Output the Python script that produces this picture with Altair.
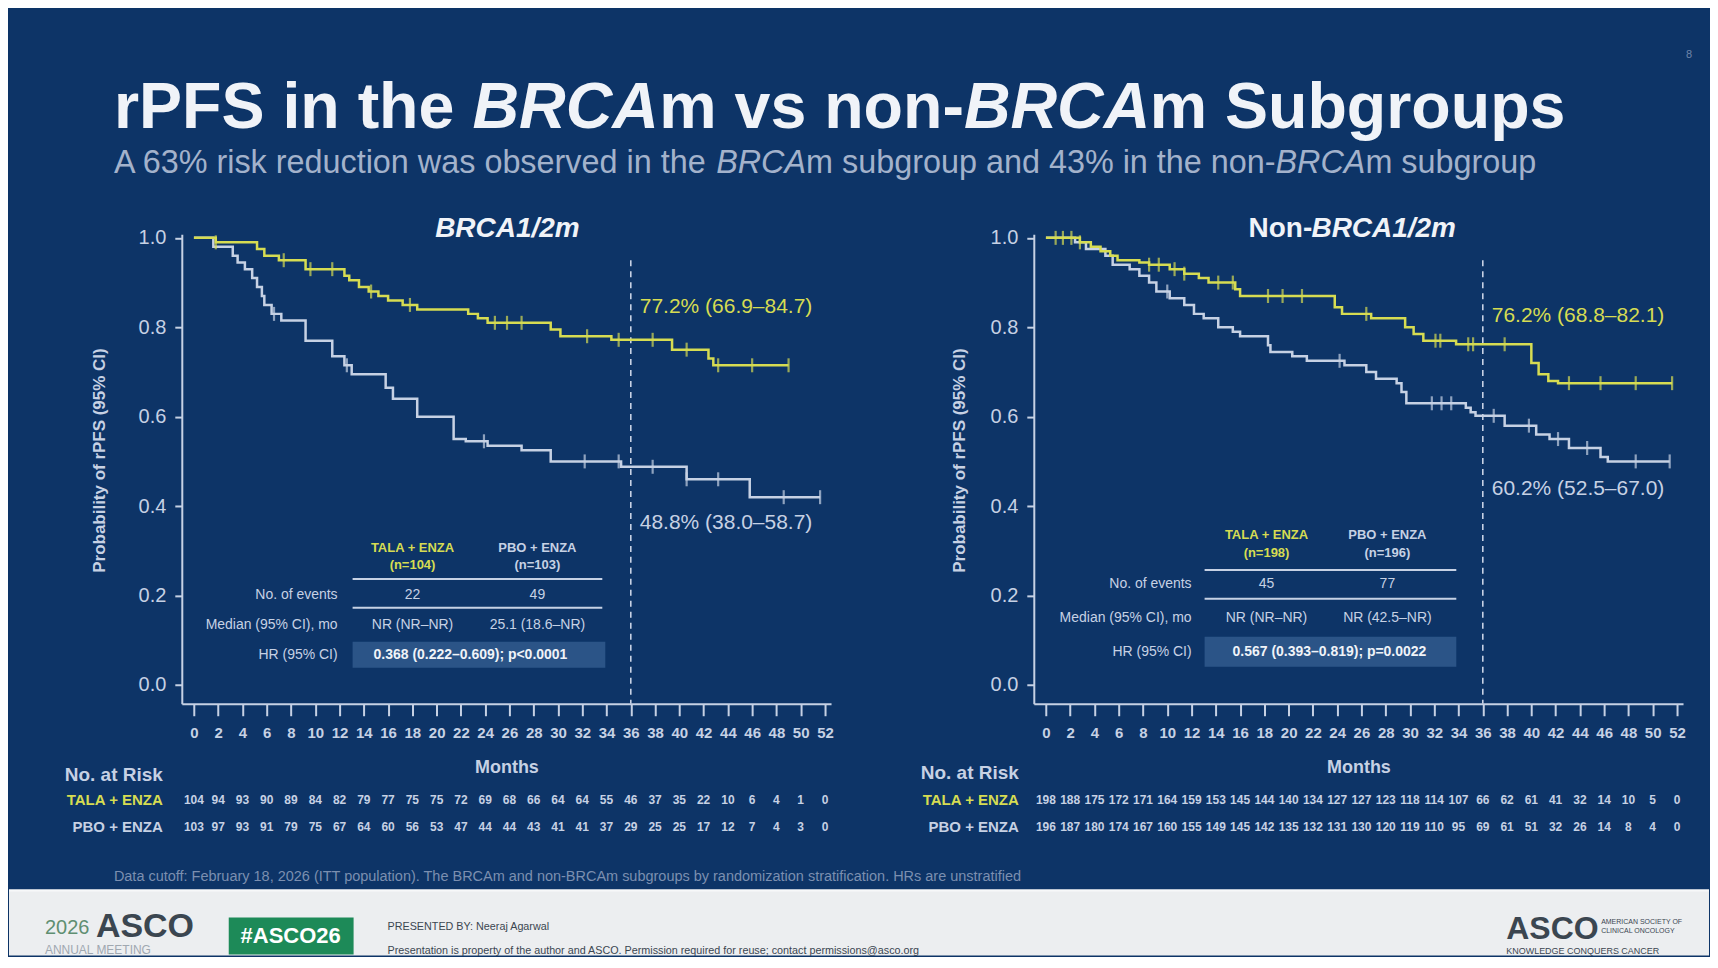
import altair as alt
import pandas as pd

FONT = "Liberation Sans"
BG = "#0d3467"
LIGHT = "#c6d1e4"
YELLOW = "#d6dc52"
WHITE = "#f0f3f8"
SUBC = "#a3b2cb"
HRBOX = "#2b5487"
FOOT_BG = "#eceef0"

# ---------------- data ----------------
TITLE_PARTS = ["rPFS in the ", "BRCA", "m vs non-", "BRCA", "m Subgroups"]
TITLE_ITALIC = [False, True, False, True, False]
SUBTITLE_PARTS = ["A 63% risk reduction was observed in the ", "BRCA",
                  "m subgroup and 43% in the non-", "BRCA", "m subgroup"]
ARMS = ["TALA + ENZA", "PBO + ENZA"]
MONTHS = list(range(0, 53, 2))
Y_TICKS = [0.0, 0.2, 0.4, 0.6, 0.8, 1.0]
ROW_LABELS = ["No. of events", "Median (95% CI), mo", "HR (95% CI)"]

BRCA_TITLE = [("BRCA1/2m", True)]
NON_TITLE = [("Non-", False), ("BRCA1/2m", True)]

BRCA_TALA_TIME = [0, 1.8, 5.2, 5.8, 7.0, 9.2, 12.4, 12.8, 13.6, 14.4, 15.2, 16.0, 17.2, 18.4,
                  22.6, 23.4, 24.2, 29.4, 30.2, 34.4, 39.4, 42.4, 42.8, 49.0]
BRCA_TALA_SURV = [1.0, 0.99, 0.975, 0.96, 0.95, 0.93, 0.915, 0.905, 0.89, 0.88, 0.87, 0.86, 0.85, 0.84,
                  0.83, 0.82, 0.81, 0.795, 0.78, 0.772, 0.75, 0.73, 0.715, 0.715]
BRCA_TALA_CENSOR = [1.8, 7.4, 9.6, 11.4, 14.6, 17.8, 24.8, 25.8, 27.0, 32.4, 35.0, 37.8, 40.6, 43.2, 46.0, 49.0]

BRCA_PBO_TIME = [0, 1.6, 3.2, 3.6, 4.2, 4.8, 5.2, 5.6, 5.8, 6.4, 7.2, 9.2, 11.4, 12.4, 13.0, 15.8, 16.4,
                 18.4, 21.4, 22.4, 24.2, 27.0, 29.4, 35.2, 40.6, 45.8, 51.6]
BRCA_PBO_SURV = [1.0, 0.98, 0.96, 0.945, 0.93, 0.91, 0.89, 0.87, 0.85, 0.83, 0.815, 0.77, 0.735, 0.715, 0.695,
                 0.665, 0.64, 0.60, 0.55, 0.545, 0.535, 0.525, 0.50, 0.488, 0.46, 0.42, 0.42]
BRCA_PBO_CENSOR = [6.6, 12.6, 23.9, 32.2, 35.0, 37.8, 40.6, 43.2, 48.6, 51.6]

NON_TALA_TIME = [0, 2.8, 3.7, 4.5, 5.3, 5.9, 7.7, 8.5, 10.2, 11.4, 12.6, 13.4, 15.6, 16.0, 23.8, 24.4,
                 26.8, 29.6, 30.3, 31.1, 33.8, 40.0, 40.6, 41.4, 42.2, 51.6]
NON_TALA_SURV = [1.0, 0.99, 0.98, 0.97, 0.96, 0.95, 0.945, 0.94, 0.93, 0.92, 0.91, 0.90, 0.885, 0.87, 0.845,
                 0.83, 0.82, 0.80, 0.785, 0.77, 0.762, 0.72, 0.695, 0.68, 0.675, 0.675]
NON_TALA_CENSOR = [0.8, 1.4, 2.1, 2.8, 8.5, 9.3, 10.6, 11.4, 14.2, 15.4, 18.3, 19.5, 21.1, 26.4, 32.1, 32.5,
                   34.8, 35.2, 37.8, 43.1, 45.7, 48.6, 51.6]

NON_PBO_TIME = [0, 2.4, 3.3, 4.9, 5.5, 6.9, 7.7, 8.5, 9.1, 10.2, 11.4, 12.2, 13.0, 14.2, 15.4, 16.0, 18.3,
                18.5, 20.3, 21.5, 24.6, 26.4, 27.2, 28.9, 29.3, 29.7, 34.6, 35.0, 35.4, 37.8, 40.4, 41.5,
                43.1, 45.7, 46.3, 51.4]
NON_PBO_SURV = [1.0, 0.99, 0.975, 0.96, 0.94, 0.93, 0.915, 0.90, 0.88, 0.865, 0.85, 0.83, 0.82, 0.80, 0.79,
                0.78, 0.76, 0.745, 0.735, 0.725, 0.715, 0.70, 0.685, 0.675, 0.655, 0.63, 0.62, 0.61, 0.602,
                0.58, 0.56, 0.55, 0.53, 0.51, 0.50, 0.50]
NON_PBO_CENSOR = [10.0, 24.2, 31.8, 32.6, 33.4, 36.9, 39.8, 42.2, 44.6, 48.6, 51.4]

BRCA_RISK_TALA = [104, 94, 93, 90, 89, 84, 82, 79, 77, 75, 75, 72, 69, 68, 66, 64, 64, 55, 46, 37, 35, 22, 10, 6, 4, 1, 0]
BRCA_RISK_PBO = [103, 97, 93, 91, 79, 75, 67, 64, 60, 56, 53, 47, 44, 44, 43, 41, 41, 37, 29, 25, 25, 17, 12, 7, 4, 3, 0]
NON_RISK_TALA = [198, 188, 175, 172, 171, 164, 159, 153, 145, 144, 140, 134, 127, 127, 123, 118, 114, 107, 66, 62, 61, 41, 32, 14, 10, 5, 0]
NON_RISK_PBO = [196, 187, 180, 174, 167, 160, 155, 149, 145, 142, 135, 132, 131, 130, 120, 119, 110, 95, 69, 61, 51, 32, 26, 14, 8, 4, 0]

BRCA_N = ["(n=104)", "(n=103)"]
BRCA_EVENTS = ["22", "49"]
BRCA_MEDIAN = ["NR (NR–NR)", "25.1 (18.6–NR)"]
BRCA_HR = "0.368 (0.222–0.609); p<0.0001"
BRCA_LANDMARK = ["77.2% (66.9–84.7)", "48.8% (38.0–58.7)"]

NON_N = ["(n=198)", "(n=196)"]
NON_EVENTS = ["45", "77"]
NON_MEDIAN = ["NR (NR–NR)", "NR (42.5–NR)"]
NON_HR = "0.567 (0.393–0.819); p=0.0022"
NON_LANDMARK = ["76.2% (68.8–82.1)", "60.2% (52.5–67.0)"]

FOOTNOTE = ("Data cutoff: February 18, 2026 (ITT population). The BRCAm and non-BRCAm subgroups by "
            "randomization stratification. HRs are unstratified")
PAGE_NO = "8"
FOOTER_LEFT = ["2026", "ASCO", "ANNUAL MEETING", "#ASCO26"]
FOOTER_MID = ["PRESENTED BY: Neeraj Agarwal",
              "Presentation is property of the author and ASCO. Permission required for reuse; contact permissions@asco.org"]
FOOTER_RIGHT = ["ASCO", "AMERICAN SOCIETY OF", "CLINICAL ONCOLOGY", "KNOWLEDGE CONQUERS CANCER"]

DUMMY = pd.DataFrame({"d": [0]})

TOTAL_W = 1702
TOP = 226          # slide y of the plot views' top edge
FOOT_Y = 882       # slide y of the footer band
TOTAL_H = 948


def step_at(t, times, surv):
    v = surv[0]
    for ti, si in zip(times, surv):
        if ti <= t:
            v = si
    return v


def txt(s, x, y, size, color, weight="normal", style="normal", align="left", baseline="alphabetic"):
    return alt.Chart(DUMMY).mark_text(
        fontSize=size, color=color, fontWeight=weight, fontStyle=style, align=align,
        baseline=baseline, font=FONT
    ).encode(x=alt.value(x), y=alt.value(y), text=alt.value(s))


def box(x1, x2, y1, y2, color):
    return alt.Chart(DUMMY).mark_rect(color=color).encode(
        x=alt.value(x1), x2=alt.value(x2), y=alt.value(y1), y2=alt.value(y2))


def hline(x1, x2, y, color, w=2):
    return alt.Chart(DUMMY).mark_rule(color=color, strokeWidth=w).encode(
        x=alt.value(x1), x2=alt.value(x2), y=alt.value(y))


def spacer(w, h):
    return alt.Chart(DUMMY).mark_point(opacity=0).encode(
        x=alt.value(0), y=alt.value(0)).properties(width=w, height=h)


def x_axis():
    return alt.Axis(values=MONTHS, format="d", title="Months", labelFontSize=15, labelFontWeight="bold",
                    labelColor=LIGHT, labelPadding=10, labelOverlap=False, labelFlush=False,
                    tickColor=LIGHT, tickSize=12, tickWidth=2, domainColor=LIGHT, domainWidth=2,
                    grid=False, titleColor=LIGHT, titleFontSize=18, titleFontWeight="bold",
                    titleY=64, titleBaseline="middle")


def y_axis(title_x):
    return alt.Axis(values=Y_TICKS, format=".1f", title="Probability of rPFS (95% CI)", labelFontSize=20,
                    labelColor=LIGHT, labelPadding=9, tickColor=LIGHT, tickSize=7, tickWidth=2,
                    domainColor=LIGHT, domainWidth=2, grid=False, titleColor=LIGHT, titleFontSize=17,
                    titleFontWeight="bold", titleX=title_x, titleY=226, titleAngle=270,
                    titleBaseline="middle", titleAlign="center")


def panel(tala_t, tala_s, tala_c, pbo_t, pbo_s, pbo_c, risk_tala, risk_pbo,
          n_labels, events, medians, hr, landmarks, title_parts, L):
    xs = alt.Scale(domain=[-1, 52.5], nice=False, zero=False)
    ys = alt.Scale(domain=[-0.042, 1.008], nice=False, zero=False)
    X = alt.X("t:Q", scale=xs, axis=x_axis())
    Y = alt.Y("s:Q", scale=ys, axis=y_axis(L["ytitle_x"]))
    layers = []
    dash = pd.DataFrame({"t": [36], "s": [L["dash_top"]], "s2": [-0.042]})
    layers.append(alt.Chart(dash).mark_rule(color=LIGHT, strokeDash=[6, 5], strokeWidth=1.6)
                  .encode(x=X, y=Y, y2="s2:Q"))
    # summary table
    bx = L["box"]
    layers.append(box(bx[0], bx[1], bx[2], bx[3], HRBOX))
    hx, hy = L["hdr_x"], L["hdr_y"]
    layers.append(txt(ARMS[0], hx[0], hy[0], 13, YELLOW, "bold", align="center", baseline="middle"))
    layers.append(txt(n_labels[0], hx[0], hy[1], 13, YELLOW, "bold", align="center", baseline="middle"))
    layers.append(txt(ARMS[1], hx[1], hy[0], 13, LIGHT, "bold", align="center", baseline="middle"))
    layers.append(txt(n_labels[1], hx[1], hy[1], 13, LIGHT, "bold", align="center", baseline="middle"))
    for ry in L["rule_y"]:
        layers.append(hline(L["rule_x"][0], L["rule_x"][1], ry, LIGHT))
    rows_y = [L["ev_y"], L["med_y"], L["hr_y"]]
    for lab, ry in zip(ROW_LABELS, rows_y):
        layers.append(txt(lab, L["lab_x"], ry, 14, LIGHT, align="right", baseline="middle"))
    for i in range(2):
        layers.append(txt(events[i], hx[i], L["ev_y"], 14, LIGHT, align="center", baseline="middle"))
        layers.append(txt(medians[i], hx[i], L["med_y"], 14, LIGHT, align="center", baseline="middle"))
    layers.append(txt(hr, L["hr_x"], L["hr_y"], 14, WHITE, "bold", align="center", baseline="middle"))

    # curves
    for t, s, c, color in [(pbo_t, pbo_s, pbo_c, LIGHT), (tala_t, tala_s, tala_c, YELLOW)]:
        df = pd.DataFrame({"t": t, "s": s})
        layers.append(alt.Chart(df).mark_line(interpolate="step-after", color=color, strokeWidth=2.5)
                      .encode(x=X, y=Y))
        cdf = pd.DataFrame({"t": c, "s": [step_at(v, t, s) for v in c]})
        layers.append(alt.Chart(cdf).mark_tick(orient="vertical", color=color, size=14, thickness=2.2)
                      .encode(x=X, y=Y))
    # landmark labels
    for i, color in enumerate([YELLOW, LIGHT]):
        ldf = pd.DataFrame({"t": [36], "s": [L["lm_y"][i]], "label": [landmarks[i]]})
        layers.append(alt.Chart(ldf).mark_text(align="left", baseline="middle", dx=L["lm_dx"], fontSize=21,
                                               color=color, font=FONT)
                      .encode(x=X, y=Y, text="label:N"))
    # number at risk
    layers.append(txt("No. at Risk", L["risk_lab_x"], L["risk_y"][0], 19, LIGHT, "bold",
                      align="right", baseline="middle"))
    for i, (risk, color) in enumerate([(risk_tala, YELLOW), (risk_pbo, LIGHT)]):
        layers.append(txt(ARMS[i], L["risk_lab_x"], L["risk_y"][i + 1], 15, color, "bold",
                          align="right", baseline="middle"))
        rdf = pd.DataFrame({"t": MONTHS, "n": risk})
        layers.append(alt.Chart(rdf).mark_text(fontSize=12, fontWeight="bold", color=LIGHT,
                                               baseline="middle", font=FONT)
                      .encode(x=X, y=alt.value(L["risk_y"][i + 1]), text=alt.Text("n:Q", format="d")))
    # panel title
    for (s, italic), px, al in zip(title_parts, L["title_x"], L["title_align"]):
        layers.append(txt(s, px, 3, 28, WHITE, "bold", "italic" if italic else "normal", align=al))
    return alt.layer(*layers).properties(width=650, height=470)


LEFT_L = dict(ytitle_x=-82, dash_top=0.95, box=[171, 424, 408, 434], hdr_x=[231, 356], hdr_y=[314, 331],
              rule_x=[171, 421], rule_y=[345, 374], ev_y=361, med_y=391, hr_y=421, lab_x=156, hr_x=289,
              lm_y=[0.846, 0.362], lm_dx=9, risk_lab_x=-19, risk_y=[541, 566, 593],
              title_x=[326], title_align=["center"])
RIGHT_L = dict(ytitle_x=-74, dash_top=0.95, box=[171, 423, 403, 433], hdr_x=[233, 354], hdr_y=[301, 319],
               rule_x=[171, 423], rule_y=[336, 365], ev_y=350, med_y=384, hr_y=418, lab_x=158, hr_x=296,
               lm_y=[0.826, 0.4375], lm_dx=9, risk_lab_x=-15, risk_y=[539, 566, 593],
               title_x=[215, 278], title_align=["left", "left"])

left = panel(BRCA_TALA_TIME, BRCA_TALA_SURV, BRCA_TALA_CENSOR, BRCA_PBO_TIME, BRCA_PBO_SURV, BRCA_PBO_CENSOR,
             BRCA_RISK_TALA, BRCA_RISK_PBO, BRCA_N, BRCA_EVENTS, BRCA_MEDIAN, BRCA_HR, BRCA_LANDMARK,
             BRCA_TITLE, LEFT_L)
right = panel(NON_TALA_TIME, NON_TALA_SURV, NON_TALA_CENSOR, NON_PBO_TIME, NON_PBO_SURV, NON_PBO_CENSOR,
              NON_RISK_TALA, NON_RISK_PBO, NON_N, NON_EVENTS, NON_MEDIAN, NON_HR, NON_LANDMARK,
              NON_TITLE, RIGHT_L)


# ---- frame view (leftmost column): slide background, header, footnote, footer ----
def Y(slide_y):
    return slide_y - TOP


TITLE_X = [105, 464, 651, 956, 1142]
SUB_X = [105, 708, 798, 1268, 1358]
DARK = "#3b4650"
frame_layers = [box(0, TOTAL_W, Y(0), Y(TOTAL_H), BG)]
for s, it, px in zip(TITLE_PARTS, TITLE_ITALIC, TITLE_X):
    frame_layers.append(txt(s, px, Y(120), 64.6, WHITE, "bold", "italic" if it else "normal"))
for s, it, px in zip(SUBTITLE_PARTS, TITLE_ITALIC, SUB_X):
    frame_layers.append(txt(s, px, Y(165), 32.4, SUBC, "normal", "italic" if it else "normal"))
frame_layers.append(txt(PAGE_NO, 1679, Y(47), 11, "#7086aa", baseline="middle"))
frame_layers.append(txt(FOOTNOTE, 105, Y(869), 14.5, "#7b8fb0", baseline="middle"))
F = FOOT_Y
frame_layers += [
    box(0, TOTAL_W, Y(F), Y(TOTAL_H), FOOT_BG),
    hline(0, TOTAL_W, Y(F) + 1, "#f7f8f9", 2),
    txt(FOOTER_LEFT[0], 36, Y(F + 39), 20, "#5f8f72", baseline="middle"),
    txt(FOOTER_LEFT[1], 87, Y(F + 38), 34, DARK, "bold", baseline="middle"),
    txt(FOOTER_LEFT[2], 36, Y(F + 61), 12, "#a0a8b0", baseline="middle"),
    box(220, 345, Y(F + 28), Y(F + 65), "#1d8a58"),
    txt(FOOTER_LEFT[3], 282, Y(F + 47), 22, "#ffffff", "bold", align="center", baseline="middle"),
    txt(FOOTER_MID[0], 379, Y(F + 38), 10.8, DARK, baseline="middle"),
    txt(FOOTER_MID[1], 379, Y(F + 62), 10.8, DARK, baseline="middle"),
    txt(FOOTER_RIGHT[0], 1499, Y(F + 40), 32, DARK, "bold", baseline="middle"),
    txt(FOOTER_RIGHT[1], 1594, Y(F + 33), 7, DARK, baseline="middle"),
    txt(FOOTER_RIGHT[2], 1594, Y(F + 42), 7, DARK, baseline="middle"),
    txt(FOOTER_RIGHT[3], 1499, Y(F + 62), 9, DARK, baseline="middle"),
]
frame = alt.layer(*frame_layers).properties(width=173, height=470)

chart = alt.hconcat(frame, left, spacer(203, 470), right, spacer(TOTAL_W - 1676, 470),
                    spacing=0, bounds="flush").properties(
    padding=0, background=BG
).configure(font=FONT).configure_view(stroke=None)

chart.save("out.html", embed_options={"renderer": "svg", "actions": False})
